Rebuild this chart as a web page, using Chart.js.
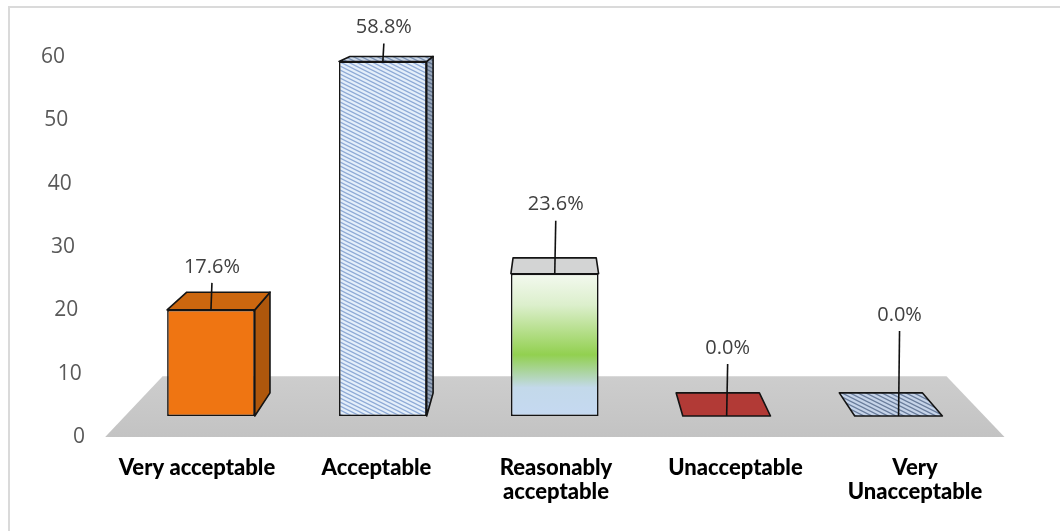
<!DOCTYPE html>
<html><head><meta charset="utf-8">
<script src="https://cdn.jsdelivr.net/npm/chart.js@4.4.1/dist/chart.umd.min.js"></script>
<style>
html,body{margin:0;padding:0;background:#fff;overflow:hidden;}
#wrap{position:relative;width:1060px;height:531px;}
#frame{position:absolute;left:8px;top:6px;width:1070px;height:540px;border-top:2px solid #dadada;border-left:2px solid #dadada;pointer-events:none;}
canvas{display:block;}
</style></head><body>
<div id="wrap"><canvas id="c" width="1060" height="531"></canvas><div id="frame"></div></div>
<script>
// ---- data ----
const categories = ['Very acceptable', 'Acceptable', ['Reasonably', 'acceptable'], 'Unacceptable', ['Very', 'Unacceptable']];
const percentages = [17.6, 58.8, 23.6, 0.0, 0.0];
const yTickValues = [0, 10, 20, 30, 40, 50, 60];

// ---- styling helpers ----
function stripePattern(bg, fg, lw) {
  const t = document.createElement('canvas');
  t.width = 8; t.height = 4;
  const g = t.getContext('2d');
  g.fillStyle = bg; g.fillRect(0, 0, 8, 4);
  g.strokeStyle = fg; g.lineWidth = lw;
  for (let k = -1; k <= 1; k++) {
    g.beginPath(); g.moveTo(-2, k * 4 - 1); g.lineTo(10, k * 4 + 5); g.stroke();
  }
  return document.getElementById('c').getContext('2d').createPattern(t, 'repeat');
}
const patAccFront = stripePattern('#e4effa', '#8eaad6', 1.3);
const patAccTop = stripePattern('#cdd9e8', '#7d93b5', 1.3);
const patAccSide = stripePattern('#9aa8bc', '#5f718c', 1.3);
const patVuTop = stripePattern('#c6d4e9', '#6a7d9c', 1.3);

function frontFill(c) {
  const i = c.dataIndex;
  if (i === 0) return '#ef7512';
  if (i === 1) return patAccFront;
  if (i === 2) {
    const ch = c.chart;
    if (!ch.chartArea) return '#92d050';
    const yb = ch.scales.yBar;
    const top = yb.getPixelForValue(percentages[2]);
    const bot = yb.getPixelForValue(0);
    const g = ch.ctx.createLinearGradient(0, top, 0, bot);
    g.addColorStop(0, '#f3f9ef');
    g.addColorStop(0.22, '#dcefcc');
    g.addColorStop(0.57, '#92d050');
    g.addColorStop(0.8, '#c3d9ea');
    g.addColorStop(1, '#c5d9f1');
    return g;
  }
  if (i === 3) return '#b23a36';
  return patVuTop;
}
const topFills = ['#cc670f', patAccTop, '#d3d4d4', '#b23a36', patVuTop];
const sideFills = ['#ae570c', patAccSide, '#bfc0c0', '#8f2c2a', '#8c9bb3'];
const edgeColor = '#141414';

// ---- 3D plugin ----
const threeD = {
  id: 'threeD',
  beforeDraw(chart, args, o) {
    const s = chart.scales.y, ca = chart.chartArea;
    if (s && typeof s.getLabelItems === 'function') {
      const items = s.getLabelItems();
      items.forEach(it => {
        const y = it.options.translation[1];
        const f = (y - ca.top) / (ca.bottom - ca.top);
        it.options.translation[0] = ca.left - 60 + 20 * f;
        it.options.textAlign = 'right';
      });
    }
  },
  beforeDatasetsDraw(chart, args, o) {
    const ctx = chart.ctx, ca = chart.chartArea, yb = chart.scales.yBar;
    const base = yb.getPixelForValue(0);
    const vp = { x: (ca.left + ca.right) / 2 + o.vpDx, y: ca.top - o.vpRise };
    const P = (x, y, s) => [vp.x + s * (x - vp.x), vp.y + s * (y - vp.y)];
    const sf = (ca.bottom - vp.y) / (base - vp.y);
    const poly = (pts, fill, stroke) => {
      ctx.beginPath();
      ctx.moveTo(pts[0][0], pts[0][1]);
      for (let k = 1; k < pts.length; k++) ctx.lineTo(pts[k][0], pts[k][1]);
      ctx.closePath();
      if (fill) { ctx.fillStyle = fill; ctx.fill(); }
      if (stroke) { ctx.strokeStyle = stroke; ctx.lineWidth = 1.6; ctx.lineJoin = 'round'; ctx.stroke(); }
    };
    ctx.save();
    const fb = P(ca.left, base, o.floorBack), ff = P(ca.left, base, sf);
    const fg = ctx.createLinearGradient(0, fb[1], 0, ff[1]);
    fg.addColorStop(0, '#cdcdcd');
    fg.addColorStop(1, '#c3c3c3');
    poly([P(ca.left, base, sf), P(ca.right, base, sf), P(ca.right, base, o.floorBack), P(ca.left, base, o.floorBack)], fg, null);
    const meta = chart.getDatasetMeta(0);
    meta.data.forEach((el, i) => {
      const p = el.getProps(['x', 'y', 'base', 'width'], true);
      const xl = p.x - p.width / 2, xr = p.x + p.width / 2, s = o.depth, y = p.y, b = p.base;
      if (y < b - 0.5) {
        if (xr < vp.x - 2) poly([[xr, y], P(xr, y, s), P(xr, b, s), [xr, b]], sideFills[i], edgeColor);
        if (xl > vp.x + 2) poly([[xl, y], P(xl, y, s), P(xl, b, s), [xl, b]], sideFills[i], edgeColor);
      }
      poly([[xl, y], [xr, y], P(xr, y, s), P(xl, y, s)], topFills[i], edgeColor);
    });
    ctx.restore();
  },
  afterDatasetsDraw(chart, args, o) {
    const ctx = chart.ctx;
    const meta = chart.getDatasetMeta(0);
    ctx.save();
    meta.data.forEach((el, i) => {
      const p = el.getProps(['x', 'y'], true);
      const ly = p.y - o.labelOffsets[i];
      ctx.strokeStyle = '#111'; ctx.lineWidth = 1.6;
      ctx.beginPath(); ctx.moveTo(p.x + 1, ly + 16); ctx.lineTo(p.x, p.y); ctx.stroke();
      ctx.fillStyle = '#404040';
      ctx.font = '20px "Open Sans", sans-serif';
      ctx.textAlign = 'center'; ctx.textBaseline = 'middle';
      ctx.fillText(percentages[i].toFixed(1) + '%', p.x + 1, ly);
    });
    ctx.restore();
  }
};

new Chart(document.getElementById('c'), {
  type: 'bar',
  data: {
    labels: categories,
    datasets: [{
      data: percentages,
      xAxisID: 'x', yAxisID: 'yBar',
      backgroundColor: frontFill,
      borderColor: edgeColor, borderWidth: 1.6, borderSkipped: false,
      barPercentage: 0.51, categoryPercentage: 1
    }]
  },
  options: {
    responsive: false, animation: false, devicePixelRatio: 1,
    layout: { padding: { left: 0, right: 75.5, top: 57, bottom: 0 } },
    plugins: {
      legend: { display: false }, tooltip: { enabled: false },
      threeD: { vpDx: -2, vpRise: 94, depth: 0.949, floorBack: 0.912, labelOffsets: [43, 34, 69, 68, 101] }
    },
    scales: {
      x: { type: 'category', display: false, offset: true },
      yBar: { type: 'linear', display: false, min: -3.48, max: 59.54 },
      y: {
        type: 'linear', position: 'left', min: 0, max: 60,
        grid: { display: false, drawTicks: false }, border: { display: false },
        afterBuildTicks: s => { s.ticks = yTickValues.map(v => ({ value: v })); },
        ticks: { color: '#595959', font: { family: '"Open Sans", sans-serif', size: 21 }, padding: 0 },
        afterFit: s => { s.width = 125; }
      },
      xl: {
        type: 'linear', position: 'bottom', min: -0.401, max: 4.387, offset: false,
        grid: { display: false, drawTicks: false }, border: { display: false },
        afterBuildTicks: s => { s.ticks = categories.map((_, i) => ({ value: i })); },
        ticks: {
          autoSkip: false, maxRotation: 0, minRotation: 0, padding: 19, color: '#000',
          font: { family: 'Lato, sans-serif', size: 22, weight: 900, lineHeight: '24px' },
          callback: (v) => categories[v]
        },
        afterFit: s => { s.height = 94; }
      }
    }
  },
  plugins: [threeD]
});
</script>
</body></html>
